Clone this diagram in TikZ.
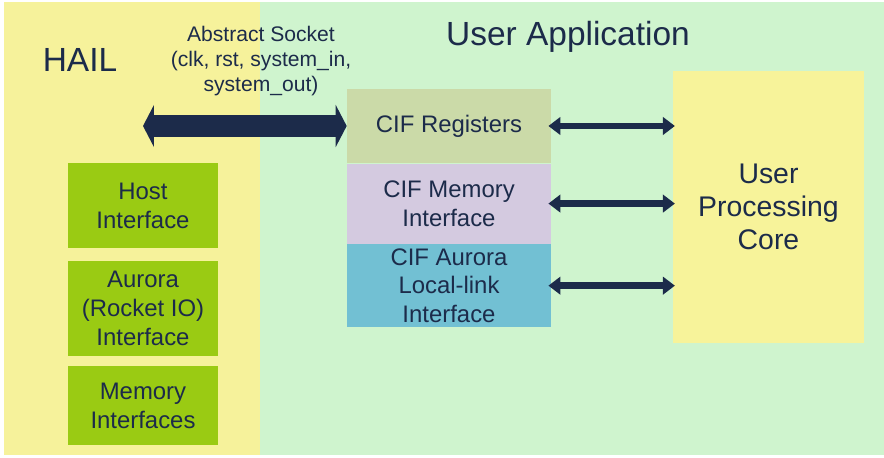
\documentclass[tikz,border=0pt]{standalone}
\usepackage{fontspec}
\setmainfont{Liberation Sans}
\usetikzlibrary{arrows.meta,positioning}
\definecolor{hailbg}{HTML}{F6F29B}
\definecolor{userbg}{HTML}{CFF4CE}
\definecolor{navy}{HTML}{1C2B4A}
\definecolor{regfill}{HTML}{CBDAA8}
\definecolor{memfill}{HTML}{D4CAE0}
\definecolor{aurfill}{HTML}{72C0D3}
\definecolor{ifgreen}{HTML}{9ACB13}
\definecolor{corefill}{HTML}{F7F39A}

\begin{document}
\begin{tikzpicture}[
x=0.025cm, y=-0.025cm,
font=\color{navy},
title/.style={font=\fontsize{23.8}{28}\selectfont\color{navy}},
cifbox/.style={draw=none, inner sep=0pt, minimum width=5.1cm, align=center,
  font=\fontsize{17}{20.5}\selectfont\color{navy}},
hailbox/.style={draw=none, fill=ifgreen, inner sep=0pt, minimum width=3.75cm, align=center,
  font=\fontsize{17}{20.5}\selectfont\color{navy}},
link/.style={draw=navy, line width=4.8pt, shorten <=-2pt, shorten >=-1.5pt,
  {Triangle[length=8.5pt,width=13pt,line width=0pt,round]}-{Triangle[length=8.5pt,width=13pt,line width=0pt,round]}},
socket/.style={draw=navy, line width=15.6pt,
  {Triangle[length=7.8pt,width=30pt,line width=0pt]}-{Triangle[length=7.8pt,width=30pt,line width=0pt]}}
]
    \useasboundingbox (0,0) rectangle (884,458);

    % Draw backgrounds
    \fill [draw=none, fill=hailbg] (4, 2) rectangle (260, 455);
    \fill [draw=none, fill=userbg] (260, 2) rectangle (884, 455);

    \node[title] (hail) at (80, 60) {HAIL};
    \node[title] (userapp) at (568, 37) {User Application};

    % HAIL interfaces
    \node[hailbox, minimum height=2.125cm] (host) at (143, 205.5) {Host\\Interface};
    \node[hailbox, minimum height=2.375cm] (aurora) at (143, 308.5) {Aurora\\(Rocket IO)\\Interface};
    \node[hailbox, minimum height=1.975cm] (memory) at (143, 405.5) {Memory\\Interfaces};

    % CIF stack
    \node[cifbox, fill=regfill, minimum height=1.85cm] (cifreg) at (449, 126) {CIF Registers};
    \node[cifbox, fill=memfill, minimum height=2cm, below=0pt of cifreg] (cifmem) {CIF Memory\\Interface};
    \node[cifbox, fill=aurfill, minimum height=2.075cm, below=0pt of cifmem] (cifaur) {CIF Aurora\\Local-link\\Interface};

    \node[draw=none, fill=corefill, inner sep=0pt, minimum width=4.775cm, minimum height=6.8cm,
      align=center, font=\fontsize{20.2}{23.5}\selectfont\color{navy}] (core) at (768.5, 207) {User\\Processing\\Core};

    % Abstract socket
    \node[align=center, font=\fontsize{15}{17.8}\selectfont\color{navy}] (socklabel) at (261, 61)
      {Abstract Socket\\(clk, rst, system\_in,\\system\_out)};
    \coordinate (sockend) at (143, 126);
    \draw[socket] (sockend) -- (cifreg.west);

    \draw[link] (cifreg.east) -- (cifreg.east -| core.west);
    \draw[link] (cifmem.east) -- (cifmem.east -| core.west);
    \draw[link] (cifaur.east) -- (cifaur.east -| core.west);

\end{tikzpicture}
\end{document}
